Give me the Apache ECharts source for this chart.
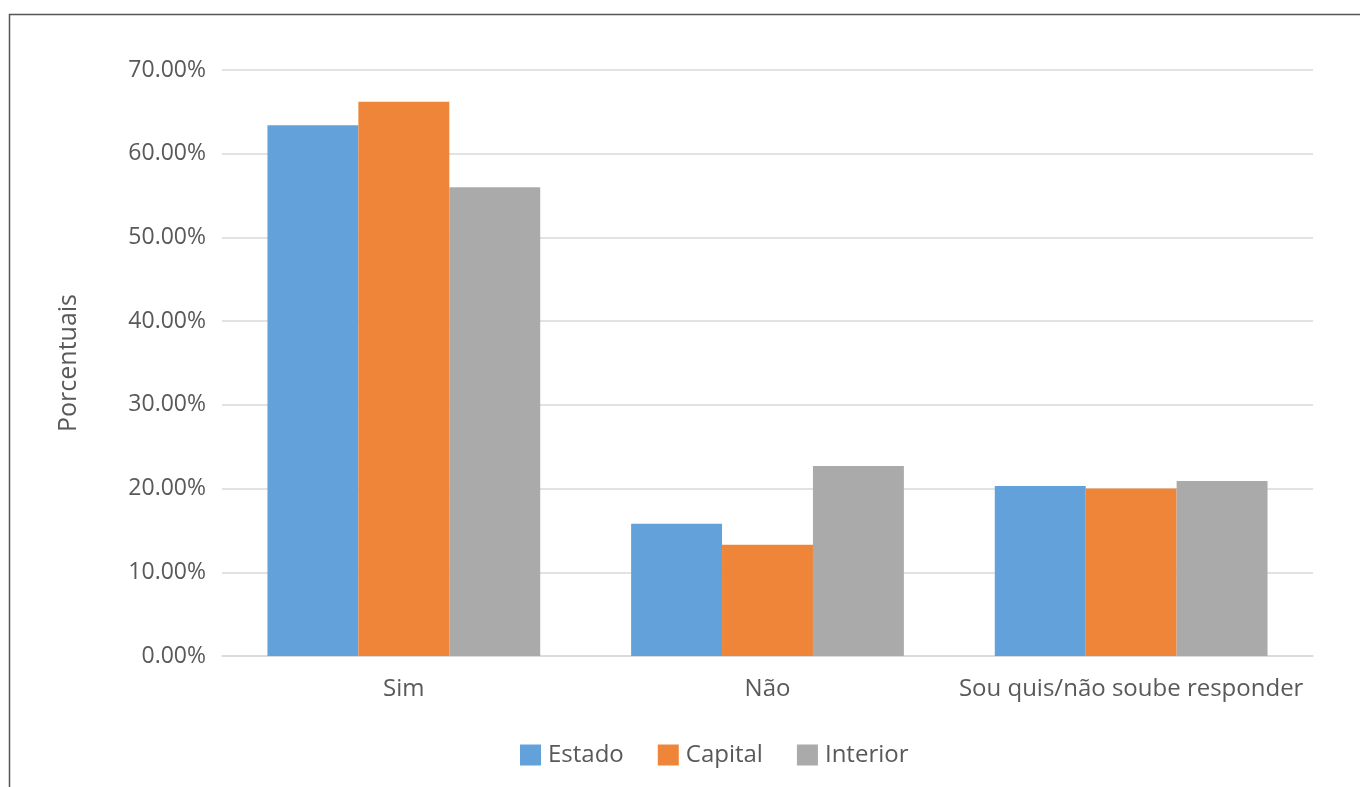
<!DOCTYPE html>
<html>
<head>
    <meta charset="utf-8">
    <title>Porcentuais</title>
    <script src="https://cdn.jsdelivr.net/npm/echarts@6/dist/echarts.min.js"></script>
    <style>
        html, body { margin: 0; padding: 0; background: #fff; }
        #chart { width: 1360px; height: 787px; }
    </style>
</head>
<body>
    <div id="chart"></div>
    <script type="text/javascript">
        // categorias e valores (%)
        var categorias = ['Sim', 'Não', 'Sou quis/não soube responder'];
        var estado = [63.4, 15.8, 20.3];
        var capital = [66.2, 13.3, 20.0];
        var interior = [56.0, 22.7, 20.9];

        var cores = ['#62a1d9', '#ee8539', '#aaaaaa'];
        var fonte = '"Open Sans", "Noto Sans", sans-serif';

        var chart = echarts.init(document.getElementById('chart'));

        var option = {
            backgroundColor: '#ffffff',
            animation: false,
            color: cores,
            // moldura fina no topo e à esquerda
            graphic: [{
                type: 'polyline',
                shape: { points: [[9.5, 787], [9.5, 14.5], [1360, 14.5]] },
                style: { stroke: '#555555', lineWidth: 1.5, fill: null }
            }],
            grid: {
                left: 222,
                right: 47,
                top: 70,
                bottom: 131
            },
            legend: {
                bottom: 15,
                left: 515,
                itemWidth: 21,
                itemHeight: 21,
                itemGap: 34,
                icon: 'rect',
                textStyle: { color: '#595959', fontSize: 24, fontFamily: fonte, padding: [0, 0, 0, 2] },
                data: ['Estado', 'Capital', 'Interior']
            },
            xAxis: {
                type: 'category',
                data: categorias,
                axisTick: { show: false },
                axisLine: { lineStyle: { color: '#d9d9d9', width: 1.5 } },
                axisLabel: { interval: 0, color: '#595959', fontSize: 24, fontFamily: fonte, margin: 21 }
            },
            yAxis: {
                type: 'value',
                min: 0,
                max: 70,
                interval: 10,
                name: 'Porcentuais',
                nameLocation: 'middle',
                nameGap: 141,
                nameTextStyle: { color: '#595959', fontSize: 25, fontFamily: fonte },
                axisLine: { show: false },
                axisTick: { show: false },
                axisLabel: {
                    color: '#595959',
                    fontSize: 23,
                    fontFamily: fonte,
                    margin: 16,
                    formatter: function (v) { return v.toFixed(2) + '%'; }
                },
                splitLine: { lineStyle: { color: '#d9d9d9', width: 1.5 } }
            },
            series: [
                { name: 'Estado', type: 'bar', data: estado, barGap: '0%', barCategoryGap: '25%' },
                { name: 'Capital', type: 'bar', data: capital, barGap: '0%', barCategoryGap: '25%' },
                { name: 'Interior', type: 'bar', data: interior, barGap: '0%', barCategoryGap: '25%' }
            ]
        };

        chart.setOption(option);
    </script>
</body>
</html>
